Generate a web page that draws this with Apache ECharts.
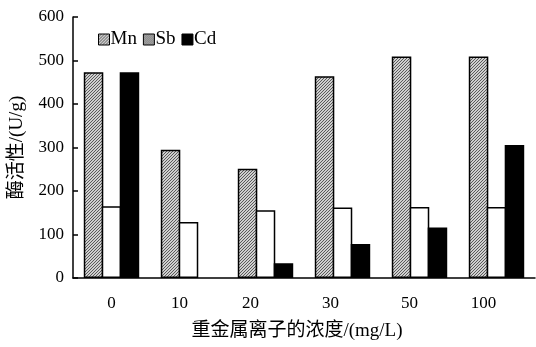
<!DOCTYPE html>
<html>
<head>
<meta charset="utf-8">
<script src="https://cdn.jsdelivr.net/npm/echarts@6/dist/echarts.min.js"></script>
<style>
    html, body { margin: 0; padding: 0; background: #fff; }
    #chart { width: 536px; height: 347px; }
</style>
</head>
<body>
<div id="chart"></div>
<script>
// 浓度 (mg/L)
const categories = ['0', '10', '20', '30', '50', '100'];
const mnValues = [473, 295, 251, 464, 509, 509];
const sbValues = [165, 129, 156, 162, 163, 163];
const cdValues = [473, 0, 34, 78, 116, 306];
const yTicks = [0, 100, 200, 300, 400, 500, 600];

const FONT = '"Liberation Serif", "Noto Sans CJK SC", serif';

// hatch pattern for Mn
function hatch(bg, fg, step) {
    const c = document.createElement('canvas');
    c.width = step; c.height = step;
    const ctx = c.getContext('2d');
    ctx.fillStyle = bg;
    ctx.fillRect(0, 0, step, step);
    ctx.strokeStyle = fg;
    ctx.lineWidth = 1;
    ctx.beginPath();
    ctx.moveTo(0, step); ctx.lineTo(step, 0);
    ctx.moveTo(-1, 1); ctx.lineTo(1, -1);
    ctx.moveTo(step - 1, step + 1); ctx.lineTo(step + 1, step - 1);
    ctx.stroke();
    return { image: c, repeat: 'repeat' };
}
// dotted pattern for Sb legend
function dots() {
    const c = document.createElement('canvas');
    c.width = 2; c.height = 2;
    const ctx = c.getContext('2d');
    ctx.fillStyle = '#d8d8d8';
    ctx.fillRect(0, 0, 2, 2);
    ctx.fillStyle = '#555';
    ctx.fillRect(0, 0, 1, 1);
    ctx.fillRect(1, 1, 1, 1);
    return { image: c, repeat: 'repeat' };
}

const mnFill = hatch('#cfcfcf', '#5a5a5a', 3);
const sbLegendFill = dots();

// labels sit a bit left of the group centre in the original
const labelShift = [0, 9, 15, 12, 10, 13];
const rich = {};
labelShift.forEach((s, i) => {
    rich['l' + i] = { fontFamily: FONT, fontSize: 17, color: '#000', padding: [0, s * 2, 0, 0] };
});

const noZero = arr => arr.map(v => (v === 0 ? '-' : v));

const barCommon = { type: 'bar', barGap: '-8%', barCategoryGap: '28%' };

const myChart = echarts.init(document.getElementById('chart'));
const option = {
    animation: false,
    textStyle: { fontFamily: FONT },
    grid: { left: 72, right: 1, top: 17, bottom: 69 },
    legend: {
        left: 93,
        top: 25,
        itemWidth: 11,
        itemHeight: 11,
        itemGap: 6,
        textStyle: { fontFamily: FONT, fontSize: 19, color: '#000', padding: [0, 0, 0, -4] },
        data: [
            { name: 'Mn', icon: 'rect', itemStyle: { color: mnFill, borderColor: '#000', borderWidth: 1 } },
            { name: 'Sb', icon: 'rect', itemStyle: { color: sbLegendFill, borderColor: '#000', borderWidth: 1 } },
            { name: 'Cd', icon: 'rect', itemStyle: { color: '#000', borderColor: '#000', borderWidth: 1 } }
        ]
    },
    xAxis: {
        type: 'category',
        data: categories,
        name: '重金属离子的浓度/(mg/L)',
        nameLocation: 'middle',
        nameGap: 44,
        nameTextStyle: { fontFamily: FONT, fontSize: 19, color: '#000', padding: [0, 14, 0, 0] },
        axisLine: { lineStyle: { color: '#000', width: 1.5 } },
        axisTick: { inside: true, length: 5, lineStyle: { color: '#000', width: 1.5 } },
        axisLabel: {
            margin: 17,
            formatter: (v, i) => '{l' + i + '|' + v + '}',
            rich: rich
        }
    },
    yAxis: {
        type: 'value',
        min: 0,
        max: 600,
        interval: 100,
        name: '酶活性/(U/g)',
        nameLocation: 'middle',
        nameGap: 46,
        nameTextStyle: { fontFamily: FONT, fontSize: 19, color: '#000' },
        axisLine: { show: true, lineStyle: { color: '#000', width: 1.5 } },
        axisTick: { show: true, inside: true, length: 5, lineStyle: { color: '#000', width: 1.5 } },
        splitLine: { show: false },
        axisLabel: {
            margin: 9,
            fontFamily: FONT,
            fontSize: 17,
            color: '#000',
            formatter: v => (yTicks.indexOf(v) >= 0 ? String(v) : '')
        }
    },
    series: [
        Object.assign({}, barCommon, {
            name: 'Mn', data: mnValues,
            itemStyle: { color: mnFill, borderColor: '#000', borderWidth: 1.5 }
        }),
        Object.assign({}, barCommon, {
            name: 'Sb', data: sbValues,
            itemStyle: { color: '#fff', borderColor: '#000', borderWidth: 1.5 }
        }),
        Object.assign({}, barCommon, {
            name: 'Cd', data: noZero(cdValues),
            itemStyle: { color: '#000', borderColor: '#000', borderWidth: 1.5 }
        })
    ]
};
myChart.setOption(option);
</script>
</body>
</html>
